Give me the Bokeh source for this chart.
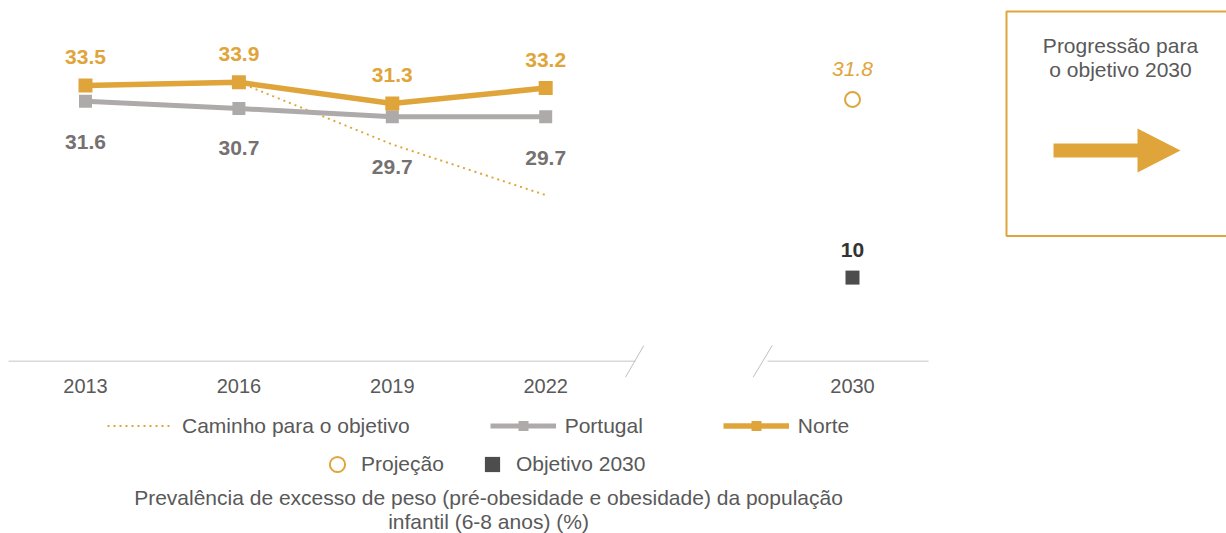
from bokeh.plotting import figure
from bokeh.models import Range1d, Legend, LegendItem
from bokeh.core.properties import value
from bokeh.embed import file_html
from bokeh.resources import INLINE

# ---------------- data ----------------
tick_labels = ["2013", "2016", "2019", "2022", "2030"]
years_obs = ["2013", "2016", "2019", "2022"]
norte = [33.5, 33.9, 31.3, 33.2]
portugal = [31.6, 30.7, 29.7, 29.7]
caminho_years = ["2016", "2019", "2022"]
caminho = [33.9, 26.3, 20.1]
goal_year = ["2030"]
projecao = [31.8]
objetivo = [10]
title_lines = ["Prevalência de excesso de peso (pré-obesidade e obesidade) da população",
               "infantil (6-8 anos) (%)"]
box_lines = ["Progressão para", "o objetivo 2030"]

# slot of each year on the x scale (2030 after a broken gap)
slot = {"2013": 0, "2016": 1, "2019": 2, "2022": 3, "2030": 5}

# ---------------- styles ----------------
ORANGE = "#DFA53A"
GRAY = "#AEAAAA"
GRAY_LBL = "#767171"
TXT = "#595959"
DARK = "#4D4D4D"
FONT = "Liberation Sans"

W, H = 1226, 533
PX_STEP = 153.4      # px per slot
PX_UNIT = 8.17       # px per percentage point
X0_PX, Y0_PX = 85, 358.8   # page position of slot 0 / value 0


def sx(px):
    return (px - X0_PX) / PX_STEP


def sy(py):
    return (Y0_PX - py) / PX_UNIT


def dpx(px):
    return px / PX_UNIT


p = figure(width=W, height=H, output_backend="svg", toolbar_location=None,
           x_range=Range1d(sx(0), sx(W)), y_range=Range1d(sy(H), sy(0)),
           x_axis_type=None, y_axis_type=None, min_border=0)
p.outline_line_color = None
p.xgrid.visible = False
p.ygrid.visible = False
p.background_fill_color = "white"

xo = [slot[y] for y in years_obs]

# broken x axis baseline
base_y = sy(360.7)
p.segment(x0=[sx(8), sx(767)], y0=[base_y, base_y], x1=[sx(635), sx(928)], y1=[base_y, base_y],
          line_color="#D9D9D9", line_width=1.5)
p.segment(x0=[sx(625), sx(752.7)], y0=[sy(376.7)] * 2, x1=[sx(643.3), sx(771.7)], y1=[sy(345)] * 2,
          line_color="#BFBFBF", line_width=1)

# tick labels
p.text(x=[slot[t] for t in tick_labels], y=[base_y - dpx(24.5)] * len(tick_labels), text=tick_labels,
       text_font=value(FONT), text_font_size="20px", text_color=TXT,
       text_align="center", text_baseline="middle")

# path to objective
r_cam = p.line([slot[y] for y in caminho_years], caminho, line_color=ORANGE, line_width=2,
               line_dash="2 4")

# Portugal
r_pt_l = p.line(xo, portugal, line_color=GRAY, line_width=5)
r_pt_s = p.scatter(xo, portugal, marker="square", size=13, fill_color=GRAY, line_color=None)

# Norte
r_no_l = p.line(xo, norte, line_color=ORANGE, line_width=5.5)
r_no_s = p.scatter(xo, norte, marker="square", size=14, fill_color=ORANGE, line_color=None)

# projection / goal
r_proj = p.scatter([slot[y] for y in goal_year], projecao, marker="circle", size=15,
                   fill_color="white", line_color=ORANGE, line_width=2)
r_obj = p.scatter([slot[y] for y in goal_year], objetivo, marker="square", size=14,
                  fill_color=DARK, line_color=None)

# data labels
pt_label_drop = [41, 40, 50, 41]
p.text(x=xo, y=[v + dpx(28.5) for v in norte], text=[f"{v:.1f}" for v in norte],
       text_font=value(FONT), text_font_size="21px", text_font_style="bold", text_color=ORANGE,
       text_align="center", text_baseline="middle")
p.text(x=xo, y=[v - dpx(d) for v, d in zip(portugal, pt_label_drop)], text=[f"{v:.1f}" for v in portugal],
       text_font=value(FONT), text_font_size="21px", text_font_style="bold", text_color=GRAY_LBL,
       text_align="center", text_baseline="middle")
p.text(x=[slot[y] for y in goal_year], y=[v + dpx(30) for v in projecao], text=[f"{v:.1f}" for v in projecao],
       text_font=value(FONT), text_font_size="21px", text_font_style="italic", text_color=ORANGE,
       text_align="center", text_baseline="middle")
p.text(x=[slot[y] for y in goal_year], y=[v + dpx(28) for v in objetivo], text=[f"{v:g}" for v in objetivo],
       text_font=value(FONT), text_font_size="21px", text_font_style="bold", text_color="#333333",
       text_align="center", text_baseline="middle")

# side box with arrow
p.quad(left=[sx(1006)], right=[sx(1300)], top=[sy(11)], bottom=[sy(235.5)],
       fill_color="white", line_color=ORANGE, line_width=2)
p.text(x=[sx(1120)] * 2, y=[sy(45), sy(68.5)], text=box_lines,
       text_font=value(FONT), text_font_size="21px", text_color=TXT,
       text_align="center", text_baseline="middle")
p.patch(x=[sx(1053), sx(1137), sx(1137), sx(1180), sx(1137), sx(1137), sx(1053)],
        y=[sy(143), sy(143), sy(128), sy(150), sy(172), sy(157), sy(157)],
        fill_color=ORANGE, line_color=None)

# title (below)
p.text(x=[sx(488)] * 2, y=[sy(497), sy(521)], text=title_lines,
       text_font=value(FONT), text_font_size="21px", text_color=TXT,
       text_align="center", text_baseline="middle")

# legends
leg1 = Legend(items=[LegendItem(label="Caminho para o objetivo", renderers=[r_cam]),
                     LegendItem(label="Portugal", renderers=[r_pt_l, r_pt_s]),
                     LegendItem(label="Norte", renderers=[r_no_l, r_no_s])],
              orientation="horizontal", location=(107, 95), glyph_width=66, glyph_height=25,
              label_standoff=9, spacing=80, padding=0, margin=0,
              border_line_color=None, background_fill_alpha=0,
              label_text_font=FONT, label_text_font_size="21px", label_text_color=TXT)
leg2 = Legend(items=[LegendItem(label="Projeção", renderers=[r_proj]),
                     LegendItem(label="Objetivo 2030", renderers=[r_obj])],
              orientation="horizontal", location=(318, 50), glyph_width=38, glyph_height=38,
              label_standoff=5, spacing=29, padding=0, margin=0,
              border_line_color=None, background_fill_alpha=0,
              label_text_font=FONT, label_text_font_size="21px", label_text_color=TXT)
p.add_layout(leg1)
p.add_layout(leg2)

open("out.html", "w").write(file_html(p, INLINE))
